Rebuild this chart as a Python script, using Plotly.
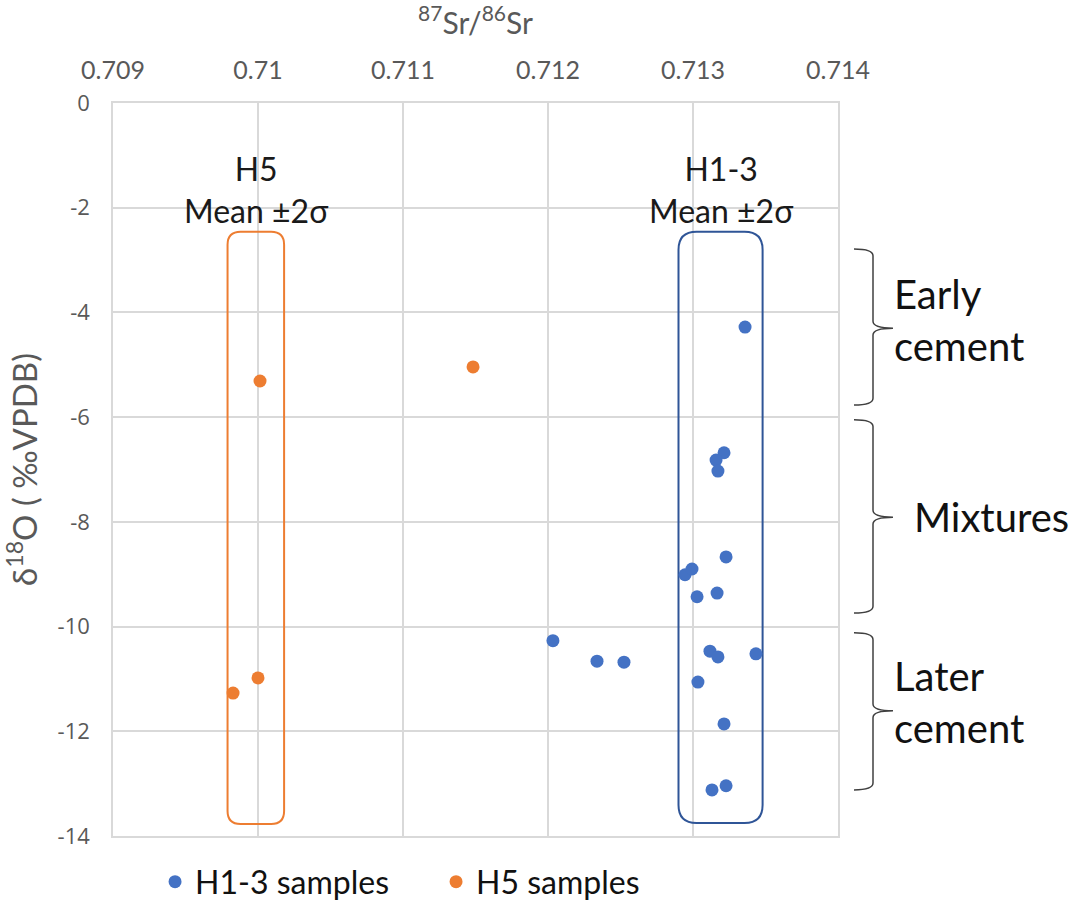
import plotly.graph_objects as go

# 87Sr/86Sr vs d18O for the two sample groups
h13_sr = [0.713359, 0.713214, 0.713159, 0.713172, 0.713228, 0.712945, 0.712993,
          0.713028, 0.713166, 0.712034, 0.712338, 0.712524, 0.713117, 0.713172,
          0.713434, 0.713034, 0.713214, 0.713131, 0.713228]
h13_d18o = [-4.28, -6.68, -6.82, -7.03, -8.67, -9.01, -8.90,
            -9.43, -9.36, -10.27, -10.66, -10.68, -10.47, -10.58,
            -10.52, -11.06, -11.86, -13.12, -13.04]

h5_sr = [0.710014, 0.711483, 0.710000, 0.709828]
h5_d18o = [-5.31, -5.04, -10.98, -11.27]

# Mean ±2σ envelopes: (sr_low, sr_high, d18o_low, d18o_high)
h5_envelope = (0.70979, 0.71018, -13.77, -2.46)
h13_envelope = (0.71290, 0.71348, -13.75, -2.46)

# Cement stages: (label, d18o_top, d18o_bottom, d18o_tip)
stage_labels = ["Early<br>cement", "Mixtures", "Later<br>cement"]
stage_top = [-2.79, -6.05, -10.12]
stage_bottom = [-5.77, -9.74, -13.12]
stage_tip = [-4.30, -7.91, -11.61]

x_ticks = [0.709, 0.710, 0.711, 0.712, 0.713, 0.714]
x_ticktext = ["0.709", "0.71", "0.711", "0.712", "0.713", "0.714"]
y_ticks = [0, -2, -4, -6, -8, -10, -12, -14]
y_ticktext = ["0", "-2", "-4", "-6", "-8", "-10", "-12", "-14"]

BLUE = "#4472C4"
ORANGE = "#ED7D31"
BOX_BLUE = "#2F5597"
GRID = "#D9D9D9"
TXT_GRAY = "#595959"
FONT = "Lato, Calibri, sans-serif"

W, H = 1086, 909
M_L, M_R, M_T, M_B = 113, 248, 103, 73
X_RANGE = [0.709, 0.714]
Y_RANGE = [-14, 0]
px_x = (W - M_L - M_R) / (X_RANGE[1] - X_RANGE[0])
px_y = (H - M_T - M_B) / (Y_RANGE[1] - Y_RANGE[0])


def rounded_rect(x0, x1, y0, y1, r_px):
    rx, ry = r_px / px_x, r_px / px_y
    return (f"M {x0 + rx},{y1} L {x1 - rx},{y1} Q {x1},{y1} {x1},{y1 - ry} "
            f"L {x1},{y0 + ry} Q {x1},{y0} {x1 - rx},{y0} "
            f"L {x0 + rx},{y0} Q {x0},{y0} {x0},{y0 + ry} "
            f"L {x0},{y1 - ry} Q {x0},{y1} {x0 + rx},{y1} Z")


def brace(top, bottom, tip, xa, xb, xc, ry=0.13):
    return (f"M {xa},{top} Q {xb},{top} {xb},{top - ry} "
            f"L {xb},{tip + ry} Q {xb},{tip} {xc},{tip} "
            f"Q {xb},{tip} {xb},{tip - ry} "
            f"L {xb},{bottom + ry} Q {xb},{bottom} {xa},{bottom}")


fig = go.Figure()
fig.add_trace(go.Scatter(x=h13_sr, y=h13_d18o, mode="markers", name="H1-3 samples",
                         marker=dict(color=BLUE, size=13)))
fig.add_trace(go.Scatter(x=h5_sr, y=h5_d18o, mode="markers", name="H5 samples",
                         marker=dict(color=ORANGE, size=13)))

shapes = [
    dict(type="path", xref="x", yref="y", layer="between",
         path=rounded_rect(*h5_envelope, 13), line=dict(color=ORANGE, width=2)),
    dict(type="path", xref="x", yref="y", layer="between",
         path=rounded_rect(*h13_envelope, 18), line=dict(color=BOX_BLUE, width=2)),
]

# braces sit to the right of the plot area (paper x, data y)
bx_a = (854 - M_L) / (W - M_L - M_R)
bx_b = (873 - M_L) / (W - M_L - M_R)
bx_c = (893 - M_L) / (W - M_L - M_R)
for t, b, tip in zip(stage_top, stage_bottom, stage_tip):
    shapes.append(dict(type="path", xref="paper", yref="y",
                       path=brace(t, b, tip, bx_a, bx_b, bx_c),
                       line=dict(color="#404040", width=1.5)))

annotations = []
for env, label in [(h5_envelope, "H5<br>Mean ±2σ"), (h13_envelope, "H1-3<br>Mean ±2σ")]:
    annotations.append(dict(x=(env[0] + env[1]) / 2, y=-1.66, xref="x", yref="y",
                            text=label, showarrow=False, xanchor="center", yanchor="middle",
                            font=dict(family=FONT, size=32, color="#1a1a1a")))

label_x = [(892 - M_L) / (W - M_L - M_R), (912 - M_L) / (W - M_L - M_R),
           (892 - M_L) / (W - M_L - M_R)]
label_y = [-4.14, -7.91, -11.45]
for lab, lx, ly in zip(stage_labels, label_x, label_y):
    annotations.append(dict(x=lx, y=ly, xref="paper", yref="y", text=lab,
                            showarrow=False, xanchor="left", yanchor="middle", align="left",
                            font=dict(family=FONT, size=40, color="#111111")))

fig.update_layout(
    width=W, height=H,
    margin=dict(l=M_L, r=M_R, t=M_T, b=M_B, autoexpand=False),
    plot_bgcolor="white", paper_bgcolor="white",
    shapes=shapes, annotations=annotations,
    showlegend=True,
    legend=dict(orientation="h", x=0.058, y=-0.025, xanchor="left", yanchor="top",
                font=dict(family=FONT, size=32, color="#111111"),
                entrywidth=236, bgcolor="rgba(0,0,0,0)"),
    xaxis=dict(side="top", range=X_RANGE, tickvals=x_ticks, ticktext=x_ticktext,
               showgrid=True, gridcolor=GRID, gridwidth=1.5, zeroline=False,
               showline=True, linecolor=GRID, linewidth=1.5, mirror=True,
               ticks="", ticklabelstandoff=12,
               tickfont=dict(family=FONT, size=25, color=TXT_GRAY),
               title=dict(text="<sup>87</sup>Sr/<sup>86</sup>Sr", standoff=14,
                          font=dict(family=FONT, size=30, color=TXT_GRAY))),
    yaxis=dict(range=Y_RANGE, tickvals=y_ticks, ticktext=y_ticktext,
               showgrid=True, gridcolor=GRID, gridwidth=1.5, zeroline=False,
               showline=True, linecolor=GRID, linewidth=1.5, mirror=True,
               ticks="", ticklabelstandoff=17,
               tickfont=dict(family="Open Sans", size=22, color=TXT_GRAY),
               title=dict(text="δ<sup>18</sup>O ( ‰VPDB)", standoff=10,
                          font=dict(family=FONT, size=33, color=TXT_GRAY))),
)

fig.write_html("out.html")
